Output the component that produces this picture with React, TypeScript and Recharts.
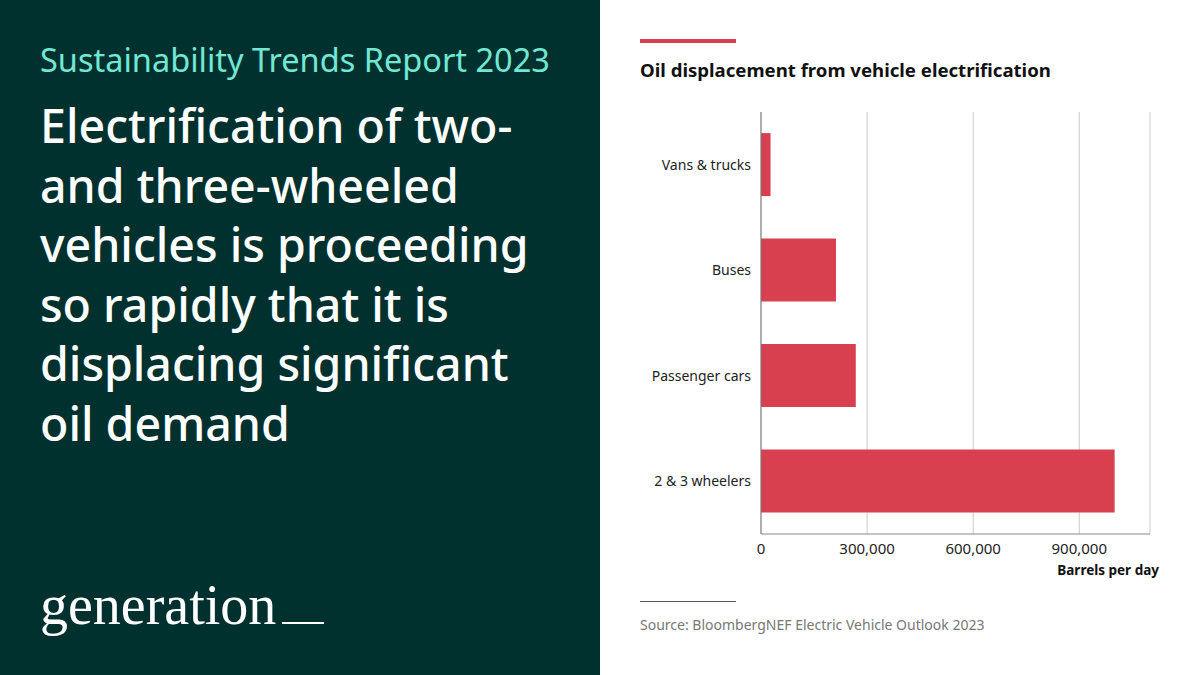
import { BarChart, Bar, XAxis, YAxis, CartesianGrid } from 'recharts';

const categories = ['Vans & trucks', 'Buses', 'Passenger cars', '2 & 3 wheelers'];
const barrelsPerDay = [27000, 212000, 268000, 1000000];
const xTicks = [0, 300000, 600000, 900000];

const headlineLines = [
    'Electrification of two-',
    'and three-wheeled',
    'vehicles is proceeding',
    'so rapidly that it is',
    'displacing significant',
    'oil demand'
];

const data = categories.map((name, i) => ({ name, value: barrelsPerDay[i] }));

const font = '"Noto Sans", sans-serif';

export default function App() {
    return (
        <div style={{ position: 'fixed', left: 0, top: 0, width: 1200, height: 675, background: '#fff', fontFamily: font, overflow: 'hidden' }}>
            {/* left panel */}
            <div style={{ position: 'absolute', left: 0, top: 0, width: 600, height: 675, background: '#01312f' }}>
                <div style={{ position: 'absolute', left: 40, top: 37, fontSize: 32.5, color: '#72e8d4', whiteSpace: 'nowrap' }}>
                    Sustainability Trends Report 2023
                </div>
                <div style={{ position: 'absolute', left: 40, top: 96, fontSize: 46.5, lineHeight: '59.5px', fontWeight: 500, color: '#fff', whiteSpace: 'nowrap' }}>
                    {headlineLines.map((l, i) => <div key={i}>{l}</div>)}
                </div>
                <div style={{ position: 'absolute', left: 40, top: 573, fontSize: 56, color: '#fff', fontFamily: '"Liberation Serif", serif', whiteSpace: 'nowrap' }}>
                    generation
                    <span style={{ display: 'inline-block', width: 42, borderBottom: '2px solid #fff', marginLeft: 6 }} />
                </div>
            </div>

            {/* right panel */}
            <div style={{ position: 'absolute', left: 640, top: 39, width: 96, height: 4, background: '#d9404f' }} />
            <div style={{ position: 'absolute', left: 640, top: 57, fontSize: 18.6, fontWeight: 700, color: '#111', whiteSpace: 'nowrap' }}>
                Oil displacement from vehicle electrification
            </div>

            <div style={{ position: 'absolute', left: 600, top: 0 }}>
                <BarChart
                    width={600}
                    height={600}
                    data={data}
                    layout="vertical"
                    barCategoryGap="20%"
                    margin={{ top: 112, right: 50, left: 0, bottom: 36 }}
                >
                    <CartesianGrid horizontal={false} stroke="#cccccc" strokeWidth={1} />
                    <XAxis
                        type="number"
                        domain={[0, 1100000]}
                        ticks={xTicks}
                        tickFormatter={(v: number) => v.toLocaleString('en-US')}
                        tickLine={false}
                        axisLine={{ stroke: '#888' }}
                        tick={{ fill: '#222', fontSize: 15, fontFamily: font }}
                        tickMargin={3}
                        height={30}
                    />
                    <YAxis
                        type="category"
                        dataKey="name"
                        width={161}
                        tickLine={false}
                        axisLine={{ stroke: '#777' }}
                        tick={{ fill: '#222', fontSize: 14, fontFamily: font }}
                        tickMargin={4}
                    />
                    <Bar dataKey="value" fill="#d9404f" isAnimationActive={false} />
                </BarChart>
            </div>

            <div style={{ position: 'absolute', right: 41, top: 561, fontSize: 13.5, fontWeight: 700, color: '#111', whiteSpace: 'nowrap' }}>
                Barrels per day
            </div>
            <div style={{ position: 'absolute', left: 640, top: 601, width: 96, height: 1, background: '#555' }} />
            <div style={{ position: 'absolute', left: 640, top: 615, fontSize: 14, color: '#777', whiteSpace: 'nowrap' }}>
                Source: BloombergNEF Electric Vehicle Outlook 2023
            </div>
        </div>
    );
}
